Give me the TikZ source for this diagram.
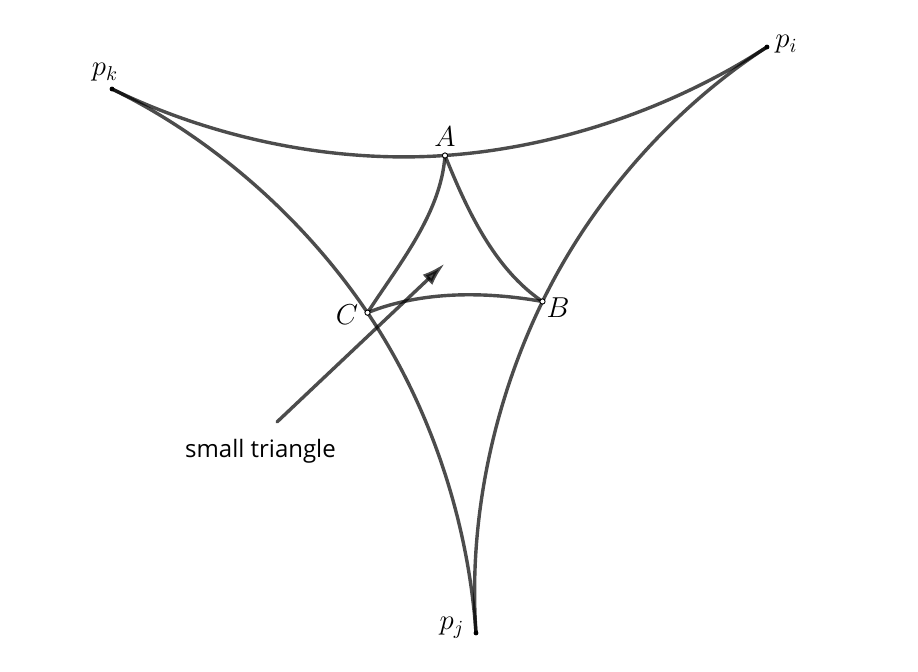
\documentclass[tikz,border=0pt]{standalone}
\usepackage{fontspec}
\newfontfamily\notefont{Open Sans}
\usetikzlibrary{calc}
\usetikzlibrary{arrows.meta}
\tikzset{geo/.style={draw=black,opacity=0.7,line width=1.7pt,line cap=round,looseness=0.85}}
\tikzset{endpt/.style={circle,fill=black,inner sep=0pt,minimum size=2.4pt}}
\tikzset{vtx/.style={circle,draw=black,fill=white,line width=0.45pt,inner sep=0pt,minimum size=2.6pt}}
\tikzset{lbl/.style={anchor=base,inner sep=0pt,font=\fontsize{14}{16}\selectfont}}

\begin{document}
\begin{tikzpicture}[x=0.5pt,y=0.5pt]
\useasboundingbox (0,0) rectangle (918,672);

\foreach \n / \x / \y in {pk/112/583, pi/767/625, pj/476/39, A/445/516.5, B/542.5/370.5, C/367.5/359.3}
{
	\coordinate (\n) at (\x,\y);
}

% the three big sides
\draw[geo] (pk) to[out=-26,in=184] (A) to[out=4,in=213] (pi);
\draw[geo] (pk) to[out=-26,in=124] (C) to[out=-56,in=94] (pj);
\draw[geo] (pi) to[out=213,in=64] (B) to[out=244,in=94] (pj);

% small triangle
\draw[geo] (A) to[out=-94,in=57] (C);
\draw[geo] (A) to[out=-68,in=146] (B);
\draw[geo] (C) to[out=22,in=170] (B);

\coordinate (tail) at (277,250);
\coordinate (head) at (445,408.7);
\draw[geo,-{Latex[length=12pt,width=7pt]}] (tail) -- (head);
\node (note) at (260.5,214.7) [anchor=base,inner sep=0pt,font=\notefont\fontsize{12}{14}\selectfont] {small triangle};

\foreach \n in {pk,pi,pj}
{
	\node (d\n) at (\n) [endpt] {};
}
\foreach \n in {A,B,C}
{
	\node (d\n) at (\n) [vtx] {};
}

\node (lpk) at ($ (pk)+(-7,13) $) [lbl] {$p_k$};
\node (lpi) at ($ (pi)+(19.5,-0.7) $) [lbl] {$p_i$};
\node (lpj) at ($ (pj)+(-24,3) $) [lbl] {$p_j$};
\node (lA) at ($ (A)+(0,8.5) $) [lbl] {$A$};
\node (lB) at ($ (B)+(15.5,-16.5) $) [lbl] {$B$};
\node (lC) at ($ (C)+(-20.5,-11.8) $) [lbl] {$C$};
\end{tikzpicture}
\end{document}
